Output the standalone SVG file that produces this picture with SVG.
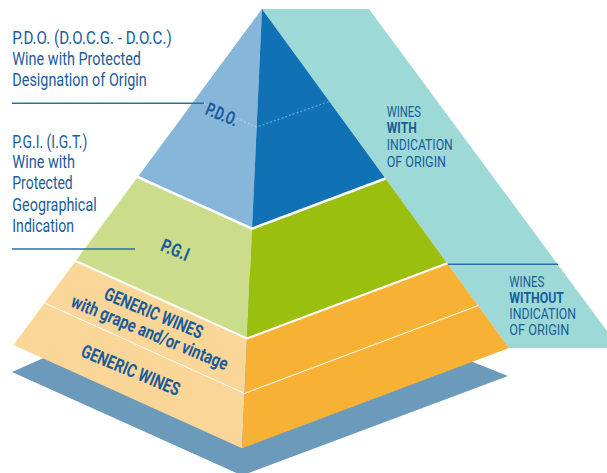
<svg xmlns="http://www.w3.org/2000/svg" width="607" height="473" viewBox="0 0 607 473">
<style>
.t{font-family:Roboto,"Liberation Sans","DejaVu Sans",sans-serif;fill:#1a5c9b}
.lbl{font-size:18.5px}
.side{font-size:14.5px}
.b{font-weight:bold}
.pl{font-size:18.5px;font-weight:bold}
.bnd{fill:none;stroke:#fff;stroke-linejoin:miter}
.lead{stroke:#2f6ea5;stroke-width:1.6;fill:none}
</style>
<rect width="607" height="473" fill="#fff"/>
<g id="shadow"><polygon points="12,372 242,270 508,376 242,475.5" fill="#6b9aba"/></g>
<g id="origin-band">
<polygon points="262,9 369,9 607,331 607,348 509,348" fill="#9dd9d7"/>
</g>
<g id="level-pdo">
<polygon points="262,9 137.75,177 252,228.65" fill="#86b6d9"/>
<polygon points="262,9 252,228.65 385.5,178.5" fill="#1171b5"/>
<polyline points="204,103.4 256.6,127.1 329,101.5" fill="none" stroke="#dbe9f5" stroke-opacity="0.7" stroke-width="0.8" stroke-dasharray="2,2"/>
<text class="t pl" transform="translate(204.3,114) rotate(22.5)" font-size="16.5" textLength="33" lengthAdjust="spacingAndGlyphs">P.D.O.</text>
</g>
<g id="level-pgi">
<polygon points="137.75,177 75.6,261 247,338.5 252,228.65" fill="#cbdd8b"/>
<polygon points="252,228.65 247,338.5 447.25,263.25 385.5,178.5" fill="#9abf0e"/>
<text class="t pl" transform="translate(159.4,250.2) rotate(22.5)" font-size="16.5" textLength="29" lengthAdjust="spacingAndGlyphs">P.G.I</text>
</g>
<g id="level-generic-vintage">
<polygon points="75.6,261 44.6,303 244.5,393.4 247,338.5" fill="#fad698"/>
<polygon points="247,338.5 244.5,393.4 478.1,305.6 447.25,263.25" fill="#f7b235"/>
<text class="t pl" transform="translate(102.8,298.8) rotate(22.5)" textLength="105" lengthAdjust="spacingAndGlyphs">GENERIC WINES</text>
<text class="t pl" transform="translate(69.8,306.3) rotate(22.5)" textLength="168" lengthAdjust="spacingAndGlyphs">with grape and/or vintage</text>
</g>
<g id="level-generic">
<polygon points="44.6,303 13.5,345 242,448.3 244.5,393.4" fill="#fad698"/>
<polygon points="244.5,393.4 242,448.3 509,348 478.1,305.6" fill="#f7b235"/>
<text class="t pl" transform="translate(79.8,356) rotate(22.5)" textLength="105" lengthAdjust="spacingAndGlyphs">GENERIC WINES</text>
</g>
<g id="level-borders">
<polyline class="bnd" stroke-width="2.5" points="137.75,177 252,228.65 385.5,178.5"/>
<polyline class="bnd" stroke-width="2" points="75.6,261 247,338.5 447.25,263.25"/>
<polyline class="bnd" stroke-width="1" points="44.6,303 244.5,393.4 478.1,305.6"/>
</g>
<g id="connectors">
<line class="lead" x1="12" y1="103.3" x2="204" y2="103.3"/>
<line class="lead" x1="12" y1="249" x2="135" y2="249"/>
<line class="lead" x1="448" y1="264.3" x2="558" y2="264.3"/>
</g>
<g id="label-pdo">
<text class="t lbl" x="12.3" y="44.3" textLength="159.4" lengthAdjust="spacingAndGlyphs">P.D.O. (D.O.C.G. - D.O.C.)</text>
<text class="t lbl" x="12.3" y="65" textLength="128.7" lengthAdjust="spacingAndGlyphs">Wine with Protected</text>
<text class="t lbl" x="12.3" y="86" textLength="134.4" lengthAdjust="spacingAndGlyphs">Designation of Origin</text>
</g>
<g id="label-pgi">
<text class="t lbl" x="12.3" y="148.3" textLength="75" lengthAdjust="spacingAndGlyphs">P.G.I. (I.G.T.)</text>
<text class="t lbl" x="12.3" y="168.3" textLength="62.7" lengthAdjust="spacingAndGlyphs">Wine with</text>
<text class="t lbl" x="12.3" y="189.3" textLength="60.4" lengthAdjust="spacingAndGlyphs">Protected</text>
<text class="t lbl" x="12.3" y="210.5" textLength="84.4" lengthAdjust="spacingAndGlyphs">Geographical</text>
<text class="t lbl" x="12.3" y="231.7" textLength="61.7" lengthAdjust="spacingAndGlyphs">Indication</text>
</g>
<g id="label-with-origin">
<text class="t side" x="386.7" y="116.7" textLength="34.3" lengthAdjust="spacingAndGlyphs">WINES</text>
<text class="t side b" x="386.7" y="133.3" textLength="30" lengthAdjust="spacingAndGlyphs">WITH</text>
<text class="t side" x="386.7" y="150" textLength="66" lengthAdjust="spacingAndGlyphs">INDICATION</text>
<text class="t side" x="386.7" y="166.7" textLength="59.3" lengthAdjust="spacingAndGlyphs">OF ORIGIN</text>
</g>
<g id="label-without-origin">
<text class="t side" x="509.3" y="286.7" textLength="35" lengthAdjust="spacingAndGlyphs">WINES</text>
<text class="t side b" x="509.3" y="302.7" textLength="54.7" lengthAdjust="spacingAndGlyphs">WITHOUT</text>
<text class="t side" x="509.3" y="319.3" textLength="66.7" lengthAdjust="spacingAndGlyphs">INDICATION</text>
<text class="t side" x="509.3" y="335.3" textLength="60" lengthAdjust="spacingAndGlyphs">OF ORIGIN</text>
</g>
</svg>
